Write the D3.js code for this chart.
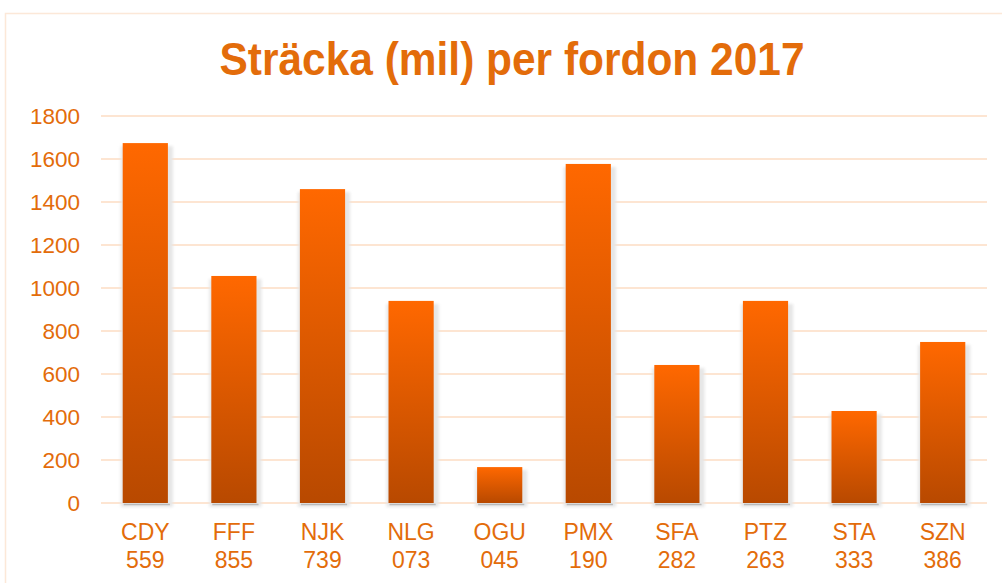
<!DOCTYPE html>
<html><head><meta charset="utf-8">
<script src="https://cdn.jsdelivr.net/npm/d3@7"></script>
<style>body{margin:0;background:#fff}svg{display:block}</style>
</head><body>
<script>
const categories = ["CDY", "FFF", "NJK", "NLG", "OGU", "PMX", "SFA", "PTZ", "STA", "SZN"];
const codes = ["559", "855", "739", "073", "045", "190", "282", "263", "333", "386"];
const values = [1674, 1056, 1460, 940, 167, 1577, 642, 940, 428, 749];
const yTicks = [0, 200, 400, 600, 800, 1000, 1200, 1400, 1600, 1800];
const title = "Sträcka (mil) per fordon 2017";

(function () {
const W = 1002, H = 583;
const svg = d3.select("body").append("svg").attr("width", W).attr("height", H);
const defs = svg.append("defs");
const grad = defs.append("linearGradient").attr("id", "barGrad")
  .attr("x1", 0).attr("y1", 0).attr("x2", 0).attr("y2", 1);
grad.append("stop").attr("offset", "0%").attr("stop-color", "#ff6800");
grad.append("stop").attr("offset", "100%").attr("stop-color", "#b84900");
const blur = defs.append("filter").attr("id", "blur").attr("x", "-20%").attr("y", "-20%").attr("width", "140%").attr("height", "140%");
blur.append("feGaussianBlur").attr("stdDeviation", 1.5);

// frame
svg.append("path").attr("d", "M5.5,583 V13.5 H1002")
  .attr("fill", "none").attr("stroke", "#fce8d8").attr("stroke-width", 1.5);

const pLeft = 101, pRight = 987, pTop = 116, pBottom = 503;
const x = d3.scaleBand().domain(categories).range([pLeft, pRight]).paddingInner(0.49).paddingOuter(0.245);
const y = d3.scaleLinear().domain([0, 1800]).range([pBottom, pTop]);

// gridlines
svg.append("g").selectAll("line").data(yTicks).join("line")
  .attr("x1", pLeft).attr("x2", pRight)
  .attr("y1", d => y(d)).attr("y2", d => y(d))
  .attr("stroke", "#fde5d2").attr("stroke-width", 2);

// y axis labels
const yAxis = d3.axisLeft(y).tickValues(yTicks).tickSize(0).tickPadding(0).tickFormat(d3.format("d"));
const ya = svg.append("g").attr("transform", "translate(80,0)").call(yAxis);
ya.select(".domain").remove();
ya.selectAll("text").attr("fill", "#e36c0a").attr("font-family", "Liberation Sans, Arial, sans-serif")
  .attr("font-size", 22.5).attr("dy", "0.35em");

// shadows
svg.append("g").attr("filter", "url(#blur)").selectAll("rect").data(values).join("rect")
  .attr("x", (d, i) => x(categories[i]) - 2)
  .attr("y", d => y(d) + 3)
  .attr("width", x.bandwidth() + 7)
  .attr("height", d => pBottom - y(d) + 1)
  .attr("fill", "#e6e6e6");

// bars
svg.append("g").selectAll("rect").data(values).join("rect")
  .attr("x", (d, i) => x(categories[i]))
  .attr("y", d => y(d))
  .attr("width", x.bandwidth())
  .attr("height", d => pBottom - y(d))
  .attr("fill", "url(#barGrad)");
// bottom dark edge
svg.append("g").selectAll("line").data(values).join("line")
  .attr("x1", (d, i) => x(categories[i]) + 1)
  .attr("x2", (d, i) => x(categories[i]) + x.bandwidth() + 2)
  .attr("y1", pBottom + 1.5).attr("y2", pBottom + 1.5)
  .attr("stroke", "#bbbbbb").attr("stroke-width", 1.5);

// x labels
const xAxis = d3.axisBottom(x).tickSize(0).tickFormat(() => "");
const xa = svg.append("g").attr("transform", `translate(0,${pBottom})`).call(xAxis);
xa.select(".domain").remove();
xa.selectAll(".tick").each(function (d, i) {
  const t = d3.select(this).append("text").attr("fill", "#e36c0a")
    .attr("font-family", "Liberation Sans, Arial, sans-serif").attr("font-size", 23)
    .attr("text-anchor", "middle");
  t.append("tspan").attr("x", 0).attr("y", 37).text(categories[i]);
  t.append("tspan").attr("x", 0).attr("y", 65).text(codes[i]);
});

// title
svg.append("text").attr("x", 512).attr("y", 75).attr("text-anchor", "middle")
  .attr("fill", "#e36c0a").attr("font-family", "Liberation Sans, Arial, sans-serif")
  .attr("font-weight", "bold").attr("font-size", 46)
  .attr("textLength", 585).attr("lengthAdjust", "spacingAndGlyphs").text(title);
})();
</script>
</body></html>
